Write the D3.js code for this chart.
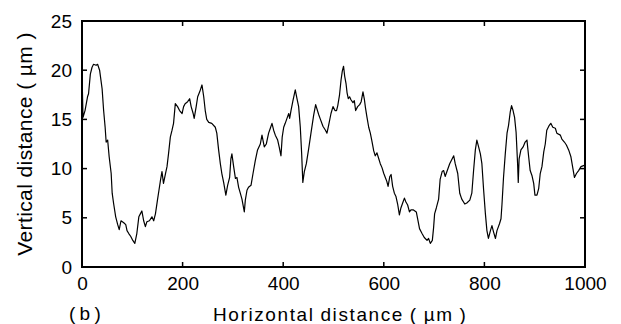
<!DOCTYPE html>
<html>
<head>
<meta charset="utf-8">
<script src="https://cdn.jsdelivr.net/npm/d3@7"></script>
<style>
  html, body { margin: 0; padding: 0; background: #fff; }
  text { font-family: "Liberation Sans", Arial, Helvetica, sans-serif; fill: #000; }
</style>
</head>
<body>
<svg id="chart" width="621" height="324"></svg>
<script>
// ---- data ----
const xTicks = [0, 200, 400, 600, 800, 1000];
const yTicks = [0, 5, 10, 15, 20, 25];
const xTitle = "Horizontal distance ( µm )";
const yTitle = "Vertical distance ( µm )";
const panelLabel = "( b )";

const xValues = [0,2,6,11,13,16.6,20,23,28,31,35,40,43,46,48,51,54,58,60,63,67,71,74,77.5,83,87,89.5,93,97,101,105,109,113,116,119,122.6,126,129,134,139,142.5,146,150,153,156,159,162,166,169,172,175.6,179,182,185.5,190,194,199,202,205,210,214,217,221,223,227,230,234,238.5,242,245,248,252,258,265,268,271.6,275,278,281.6,286,289.5,293.5,296,298,301.5,305,308,311.4,314.7,318,322.7,324.7,328,331,336,340,344.5,349,354.5,357.8,362.4,366.4,371,374.4,377.7,381,384.3,389,392,395.6,398,401,404,407.5,411,412.8,415.5,419.4,424,427.4,430.7,434,436.7,439,442,446,450.6,455.2,460.5,464.5,470.5,474,479,484,487,490.3,495,499,503,506,508.5,512,515,517.5,520,522.2,525,527,529.4,532,534.7,538.7,541.4,544,548,552,555,558.6,561.5,563.5,566.6,570,573.2,576,580,583,586.4,590,593,596.4,600,603,606,608.5,612,614.5,617.6,621,624,627.5,631,634,637.5,641,644,647.4,651,654,659,664.6,667.3,671,676,680.5,686,689,692.5,696.5,699,701,704.4,709,712,716,719,722,725.5,731,739,742,747,751,755,761,765,771,775,778.5,782,785,788.5,792,795,798.5,802,805,808,812,815,818,822,825,830,833,835,838,841.5,845,848,851.5,854,857,860,863,866,867.3,869,872.6,877,881,884.6,888,891,894.5,898,900.5,904.5,908,911,914.4,918,921,924,929,932,936,941,944,951,954,959,963,967.5,972,976,979,983,987.3,992,997,1000];
const yValues = [19.8,15.2,15.9,17.3,17.6,19.6,20.3,20.6,20.5,20.6,20.0,18.1,15.9,14.2,12.7,12.9,11.2,9.5,7.5,6.4,5.1,4.3,3.8,4.7,4.5,4.3,3.7,3.4,3.1,2.7,2.4,3.4,5.1,5.4,5.7,4.7,4.1,4.6,4.7,5.1,4.7,5.4,6.8,7.8,8.8,9.7,8.5,9.5,10.2,11.5,13.2,13.9,14.6,16.6,16.3,15.9,15.6,16.3,16.6,16.8,17.1,16.3,15.6,15.1,16.3,17.3,17.8,18.5,17.3,15.9,15.0,14.7,14.6,14.2,13.6,11.9,10.5,9.5,8.6,7.3,8.3,9.1,11.0,11.5,10.2,9.0,9.1,8.1,7.5,6.9,5.6,6.8,7.8,8.1,8.3,9.5,10.8,11.9,12.5,13.4,12.2,12.5,13.6,14.1,14.6,13.9,13.4,12.9,12.2,11.3,13.2,14.2,14.6,15.1,15.6,15.1,15.9,16.9,18.0,17.1,16.3,14.2,11.5,8.6,9.7,10.5,12.0,13.6,15.4,16.5,15.5,15.0,14.3,13.9,13.6,14.4,15.6,16.3,15.9,15.9,16.4,17.5,19.0,19.9,20.4,19.4,18.6,17.7,17.1,17.3,17.0,16.7,16.9,15.9,16.3,16.5,16.8,17.8,17.0,16.2,15.2,14.2,13.6,12.9,11.8,11.3,11.6,11.0,10.5,10.1,9.5,9.1,8.7,8.2,9.2,9.4,8.2,7.5,7.2,6.4,5.3,6.0,6.5,7.0,6.6,6.3,5.6,5.8,5.8,5.6,4.9,3.9,3.4,3.0,2.7,2.9,2.4,2.7,4.0,5.4,6.0,6.9,8.9,9.7,9.8,9.2,9.7,10.5,11.3,10.5,9.5,7.5,6.9,6.4,6.5,6.8,7.5,9.8,11.9,12.9,12.2,11.5,10.5,7.8,5.4,3.7,2.9,3.7,4.2,3.6,2.9,3.7,4.4,4.9,6.4,9.1,11.5,13.6,14.4,15.8,16.4,15.9,15.2,13.7,10.5,8.6,11.0,11.9,12.2,12.7,12.9,11.2,9.8,9.3,8.5,7.3,7.3,8.0,9.5,10.2,11.7,12.5,13.9,14.4,14.6,14.2,14.1,13.6,13.4,13.0,12.7,12.4,11.9,11.2,10.0,9.1,9.5,9.8,10.2,10.3,10.4];

// ---- layout ----
const margin = { left: 82, right: 36, top: 21, bottom: 57 };
const W = 621, H = 324;
const svg = d3.select("#chart");

const x = d3.scaleLinear().domain([0, 1000]).range([margin.left, W - margin.right]);
const y = d3.scaleLinear().domain([0, 25]).range([H - margin.bottom, margin.top]);

const points = xValues.map((v, i) => [v, yValues[i]]);

// data line
svg.append("path")
  .datum(points)
  .attr("fill", "none")
  .attr("stroke", "#000")
  .attr("stroke-width", 1.2)
  .attr("stroke-linejoin", "round")
  .attr("d", d3.line().x(d => x(d[0])).y(d => y(d[1])));

// frame
svg.append("rect")
  .attr("x", x(0)).attr("y", y(25))
  .attr("width", x(1000) - x(0)).attr("height", y(0) - y(25))
  .attr("fill", "none").attr("stroke", "#000").attr("stroke-width", 2);

const inner = xTicks.filter(t => t > 0 && t < 1000);
const innerY = yTicks.filter(t => t > 0 && t < 25);
const tickLen = 5;
const tickStyle = sel => sel.attr("stroke", "#000").attr("stroke-width", 1.5);

// bottom axis labels
const bottom = svg.append("g").attr("transform", `translate(0,${y(0)})`)
  .call(d3.axisBottom(x).tickValues(xTicks).tickSize(0).tickPadding(10).tickFormat(d3.format("d")));
bottom.select(".domain").remove();
bottom.selectAll("text").style("font-size", "19px").attr("font-family", null);

// inward ticks: bottom, top
svg.selectAll(null).data(inner).enter().append("line")
  .attr("x1", d => x(d)).attr("x2", d => x(d))
  .attr("y1", y(0)).attr("y2", y(0) - tickLen).call(tickStyle);
svg.selectAll(null).data(inner).enter().append("line")
  .attr("x1", d => x(d)).attr("x2", d => x(d))
  .attr("y1", y(25)).attr("y2", y(25) + tickLen).call(tickStyle);
// inward ticks: left, right
svg.selectAll(null).data(innerY).enter().append("line")
  .attr("x1", x(0)).attr("x2", x(0) + tickLen)
  .attr("y1", d => y(d)).attr("y2", d => y(d)).call(tickStyle);
svg.selectAll(null).data(innerY).enter().append("line")
  .attr("x1", x(1000)).attr("x2", x(1000) - tickLen)
  .attr("y1", d => y(d)).attr("y2", d => y(d)).call(tickStyle);

// left axis labels
const left = svg.append("g").attr("transform", `translate(${x(0)},0)`)
  .call(d3.axisLeft(y).tickValues(yTicks).tickSize(0).tickPadding(10).tickFormat(d3.format("d")));
left.select(".domain").remove();
left.selectAll("text").style("font-size", "19px").attr("font-family", null);

// titles
svg.append("text")
  .attr("x", 213).attr("y", 321)
  .style("font-size", "19px")
  .style("letter-spacing", "1.6px")
  .style("word-spacing", "-1px")
  .text(xTitle);

svg.append("text")
  .attr("transform", `translate(32,${(y(0) + y(25)) / 2}) rotate(-90)`)
  .attr("text-anchor", "middle")
  .style("font-size", "21px")
  .style("letter-spacing", "0.4px")
  .text(yTitle);

svg.append("text")
  .attr("x", 69).attr("y", 320)
  .style("font-size", "19px")
  .style("letter-spacing", "0.5px")
  .style("word-spacing", "-2px")
  .text(panelLabel);
</script>
</body>
</html>
